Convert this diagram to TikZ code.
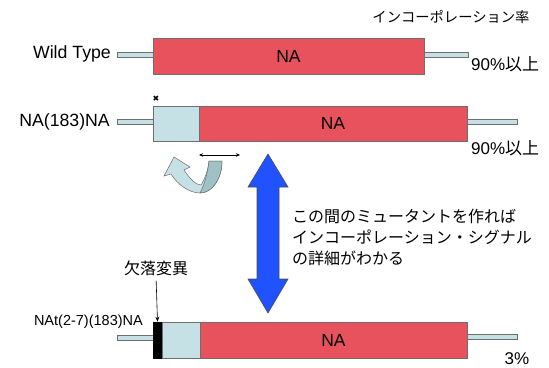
\documentclass[tikz,border=0pt]{standalone}
\usepackage{fontspec}
\setmainfont{Liberation Sans}
\newfontfamily\jp{Noto Sans CJK JP}
\newfontfamily\dv{DejaVu Sans}
\usetikzlibrary{arrows.meta}
\definecolor{nared}{RGB}{232,82,92}
\definecolor{lblue}{RGB}{197,225,230}
\definecolor{dblue}{RGB}{160,193,198}
\definecolor{bigblue}{RGB}{32,82,255}
\definecolor{edge}{RGB}{110,110,110}
\tikzset{
  redbox/.style={draw=edge, fill=nared, line width=0.6pt, inner sep=0pt, font=\fontsize{17.5}{19}\selectfont},
  bluebox/.style={draw=edge, fill=lblue, line width=0.6pt, inner sep=0pt},
  blackbox/.style={draw=black, fill=black, line width=0.6pt, inner sep=0pt},
  stub/.style={draw=edge, fill=lblue, line width=0.6pt, inner sep=0pt, minimum height=5pt},
  lab/.style={inner sep=0pt, font=\fontsize{17.7}{19}\selectfont},
  jplab/.style={inner sep=0pt, font=\jp\fontsize{16}{21}\selectfont},
  pct/.style={inner sep=0pt, font=\fontsize{17}{19}\selectfont},
}
\begin{document}
\begin{tikzpicture}[x=1pt,y=-1pt]
\useasboundingbox (0,0) rectangle (549,367);

% header
\node[inner sep=0pt, font=\jp\fontsize{14.3}{16}\selectfont] (hdr) at (451,17) {インコーポレーション率};

% Row 1: Wild Type
\node[stub, minimum width=36pt] (w1l) at (135,54.5) {};
\node[stub, minimum width=44pt] (w1r) at (446,54.5) {};
\node[redbox, minimum width=271pt, minimum height=36pt] (wt) at (288.5,56) {NA};
\node[lab, anchor=east] (wtl) at (111,54) {Wild Type};
\node[pct, anchor=west] (p1) at (471,64) {90\%{\jp 以上}};

% Row 2: NA(183)NA
\node[stub, minimum width=36pt] (r2l) at (135,121.5) {};
\node[stub, minimum width=50pt] (r2r) at (492,122) {};
\node[bluebox, minimum width=46pt, minimum height=35pt] (lb2) at (176,123.5) {};
\node[redbox, minimum width=268pt, minimum height=35pt] (red2) at (333,123.5) {NA};
\node[lab, anchor=east] (r2lab) at (110,122) {NA(183)NA};
\node[pct, anchor=west] (p2) at (471,148) {90\%{\jp 以上}};
\node[inner sep=0pt, font=\dv\fontsize{8}{8}\selectfont] (star) at (156,99) {✖};

% small double arrow
\coordinate (da1) at (199,155);
\coordinate (da2) at (240,155);
\draw[{Stealth[length=4pt,width=3.5pt]}-{Stealth[length=4pt,width=3.5pt]}, line width=0.6pt] (da1) -- (da2);

% U-turn arrow
\fill[lblue, draw=edge, line width=0.5pt]
  (174,157) -- (190,167) -- (184,170)
  .. controls (190,179) and (196,185) .. (201,185)
  .. controls (205,179) and (208,170) .. (209,161)
  -- (222,161)
  .. controls (222,179) and (212,193) .. (200,193)
  .. controls (189,193) and (177,184) .. (171,174)
  -- (164,176) -- cycle;
\fill[dblue, draw=edge, line width=0.5pt]
  (209,161) -- (222,161)
  .. controls (222,179) and (212,193) .. (200,193)
  .. controls (204,186) and (208,172) .. (209,161) -- cycle;

% big blue double arrow
\fill[bigblue, draw=black!70, line width=0.6pt]
  (268,154) -- (288,187) -- (279,187) -- (279,279) -- (288,279)
  -- (268,313) -- (248,279) -- (257,279) -- (257,187) -- (248,187) -- cycle;

% explanation text
\node[jplab, anchor=west, align=left] (expl) at (292,237)
  {この間のミュータントを作れば\\インコーポレーション・シグナル\\の詳細がわかる};

% Row 3: NAt(2-7)(183)NA
\node[stub, minimum width=36pt] (r3l) at (135,337.5) {};
\node[stub, minimum width=51pt] (r3r) at (492,337) {};
\node[blackbox, minimum width=8.5pt, minimum height=36pt] (blk) at (157.5,340) {};
\node[bluebox, minimum width=38pt, minimum height=36pt] (lb3) at (181,340) {};
\node[redbox, minimum width=267pt, minimum height=36pt] (red3) at (333.5,340) {NA};
\node[inner sep=0pt, anchor=east, font=\fontsize{14.5}{17}\selectfont] (r3lab) at (143,322) {NAt(2-7)(183)NA};
\node[pct] (p3) at (517,359) {3\%};

\node[jplab] (kl) at (156,268) {欠落変異};
\draw[-{Stealth[length=5pt,width=4pt]}, line width=0.6pt, shorten <=5pt] (kl.south) -- (blk.north);

\end{tikzpicture}
\end{document}
